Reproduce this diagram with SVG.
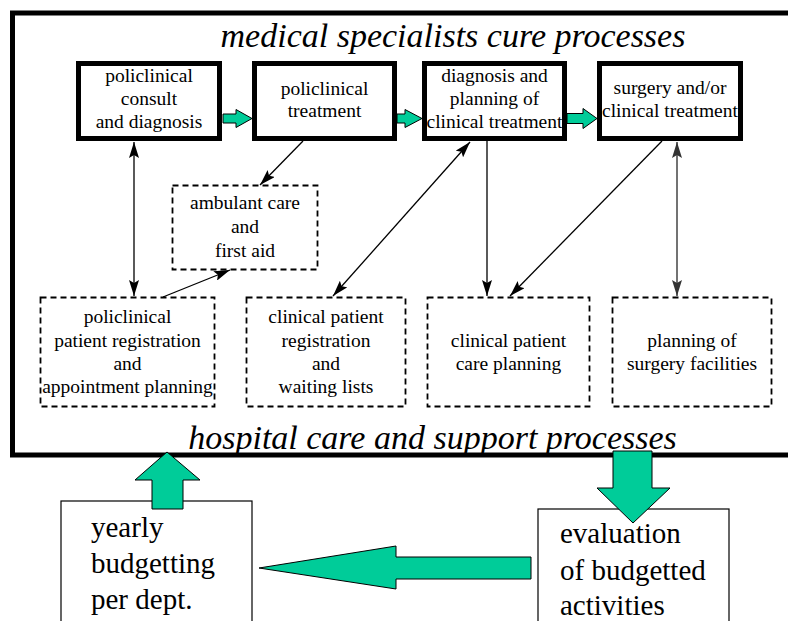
<svg xmlns="http://www.w3.org/2000/svg" width="788" height="621" viewBox="0 0 788 621" font-family="'Liberation Serif', 'DejaVu Serif', serif">
<style>
text{font-family:'Liberation Serif','DejaVu Serif',serif;fill:#000}
.t{font-size:19.5px;text-anchor:middle}
.title{font-size:34px;font-style:italic;text-anchor:middle}
.big{font-size:29px}
.main{fill:#fff;stroke:#000;stroke-width:5}
.dash{fill:#fff;stroke:#000;stroke-width:1.8;stroke-dasharray:6 4}
.plain{fill:#fff;stroke:#000;stroke-width:1.2}
.green{fill:#00CC99;stroke:#000;stroke-width:1}
.con{stroke:#000;stroke-width:1.3;fill:none}
</style>
<defs>
<marker id="ah" viewBox="0 0 16 10" refX="16" refY="5" markerWidth="16" markerHeight="10" markerUnits="userSpaceOnUse" orient="auto-start-reverse">
<path d="M0,0 L16,5 L0,10 L3,5 z" fill="#000"/>
</marker>
<marker id="ahg" viewBox="0 0 16 10" refX="16" refY="5" markerWidth="16" markerHeight="10" markerUnits="userSpaceOnUse" orient="auto-start-reverse">
<path d="M0,0 L16,5 L0,10 L3,5 z" fill="#333"/>
</marker>
</defs>
<rect width="788" height="621" fill="#fff"/>
<g id="frame">
<rect x="12.5" y="13" width="800" height="442" fill="none" stroke="#000" stroke-width="5"/>
<text class="title" x="453" y="47">medical specialists cure processes</text>
<text class="title" x="432.5" y="449">hospital care and support processes</text>
</g>
<g id="n1">
<rect class="main" x="78.5" y="63.5" width="141" height="75"/>
<text class="t" x="149" y="82">policlinical</text>
<text class="t" x="149" y="105">consult</text>
<text class="t" x="149" y="128">and diagnosis</text>
</g>
<g id="n2">
<rect class="main" x="254.5" y="63.5" width="140" height="75"/>
<text class="t" x="324.5" y="95">policlinical</text>
<text class="t" x="324.5" y="117">treatment</text>
</g>
<g id="n3">
<rect class="main" x="424.5" y="63.5" width="140" height="75"/>
<text class="t" x="494.5" y="82">diagnosis and</text>
<text class="t" x="494.5" y="105">planning of</text>
<text class="t" x="494.5" y="128">clinical treatment</text>
</g>
<g id="n4">
<rect class="main" x="599.5" y="63.5" width="141" height="75"/>
<text class="t" x="670" y="94">surgery and/or</text>
<text class="t" x="670" y="117">clinical treatment</text>
</g>
<g id="n5">
<rect class="dash" x="172.5" y="185.5" width="145" height="84"/>
<text class="t" x="245" y="209">ambulant care</text>
<text class="t" x="245" y="233">and</text>
<text class="t" x="245" y="257">first aid</text>
</g>
<g id="n6">
<rect class="dash" x="40.5" y="297.5" width="174" height="109"/>
<text class="t" x="127.5" y="323">policlinical</text>
<text class="t" x="127.5" y="347">patient registration</text>
<text class="t" x="127.5" y="370">and</text>
<text class="t" x="127.5" y="393">appointment planning</text>
</g>
<g id="n7">
<rect class="dash" x="246.5" y="297.5" width="159" height="109"/>
<text class="t" x="326" y="323">clinical patient</text>
<text class="t" x="326" y="347">registration</text>
<text class="t" x="326" y="370">and</text>
<text class="t" x="326" y="393">waiting lists</text>
</g>
<g id="n8">
<rect class="dash" x="427.5" y="297.5" width="162" height="109"/>
<text class="t" x="508.5" y="347">clinical patient</text>
<text class="t" x="508.5" y="370">care planning</text>
</g>
<g id="n9">
<rect class="dash" x="612.5" y="297.5" width="159" height="109"/>
<text class="t" x="692" y="347">planning of</text>
<text class="t" x="692" y="370">surgery facilities</text>
</g>
<g id="n10">
<rect class="plain" x="61" y="501" width="191" height="140"/>
<text class="big" x="91" y="537">yearly</text>
<text class="big" x="91" y="573">budgetting</text>
<text class="big" x="91" y="609">per dept.</text>
</g>
<g id="n11">
<rect class="plain" x="538" y="509" width="191" height="140"/>
<text class="big" x="560" y="543">evaluation</text>
<text class="big" x="560" y="580">of budgetted</text>
<text class="big" x="560" y="615">activities</text>
</g>
<g id="connectors">
<path class="green" d="M223,114 L236,114 L236,109.5 L252,118.5 L236,127.5 L236,123 L223,123 z"/>
<path class="green" d="M397,114 L405,114 L405,109.5 L422,118.5 L405,127.5 L405,123 L397,123 z"/>
<path class="green" d="M567,113.5 L583,113.5 L583,108.5 L597,118.5 L583,128.5 L583,123.5 L567,123.5 z"/>
<line class="con" x1="134" y1="142" x2="134" y2="296" marker-start="url(#ah)" marker-end="url(#ah)"/>
<line class="con" x1="303" y1="141" x2="260" y2="185" marker-end="url(#ah)"/>
<line class="con" x1="163" y1="297" x2="230" y2="270" marker-end="url(#ah)"/>
<line class="con" x1="470" y1="142" x2="333" y2="296" marker-start="url(#ah)" marker-end="url(#ah)"/>
<line class="con" x1="487" y1="141" x2="487" y2="296" marker-end="url(#ah)"/>
<line class="con" x1="662" y1="141" x2="510" y2="296" marker-end="url(#ah)"/>
<line x1="677" y1="142" x2="677" y2="296" stroke="#444" stroke-width="1.5" marker-start="url(#ahg)" marker-end="url(#ahg)"/>
<path class="green" d="M167,452 L200,480 L183,480 L183,509 L152,509 L152,480 L135,480 z"/>
<path class="green" d="M613,451 L652,451 L652,488 L670,488 L633,523 L597,488 L613,488 z"/>
<path class="green" d="M259,568 L396,546 L396,557 L531,557 L531,579 L396,579 L396,589 z"/>
</g>
</svg>
